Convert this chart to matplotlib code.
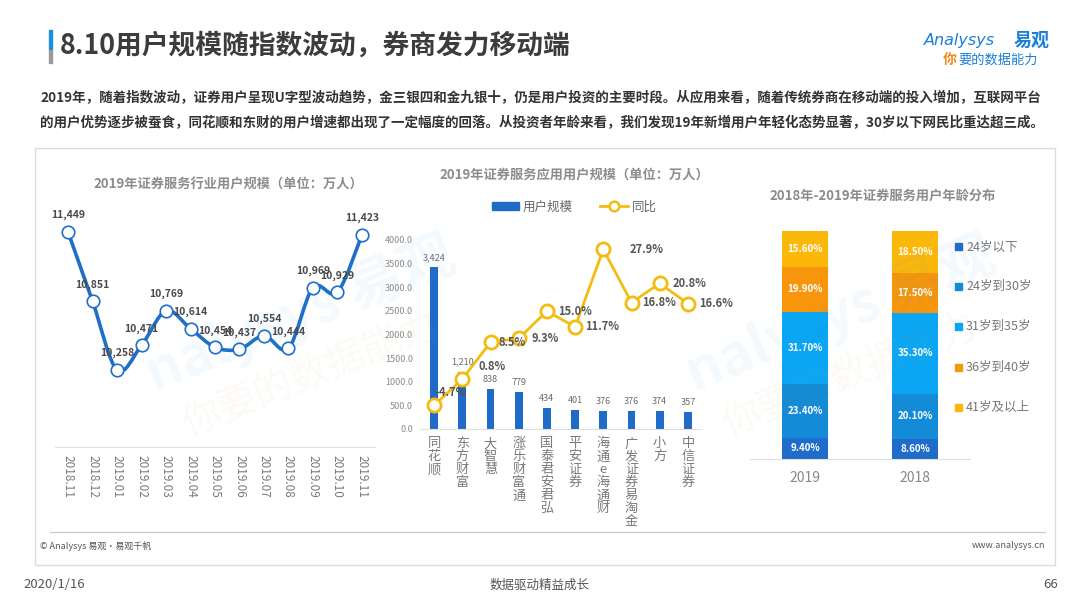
import numpy as np
import matplotlib
matplotlib.use("Agg")
import matplotlib.pyplot as plt
from matplotlib.path import Path
from matplotlib.patches import PathPatch, Rectangle, Patch
from matplotlib.lines import Line2D

plt.rcParams['font.family'] = ['Noto Sans CJK SC', 'DejaVu Sans']

# data
months = ['2018.11', '2018.12', '2019.01', '2019.02', '2019.03', '2019.04', '2019.05',
          '2019.06', '2019.07', '2019.08', '2019.09', '2019.10', '2019.11']
industry_users = [11449, 10851, 10258, 10471, 10769, 10614, 10454, 10437, 10554, 10444, 10969, 10929, 11423]

apps = ['同花顺', '东方财富', '大智慧', '涨乐财富通', '国泰君安君弘', '平安证券',
        '海通e海通财', '广发证券易淘金', '小方', '中信证券']
app_users = [3424, 1210, 838, 779, 434, 401, 376, 376, 374, 357]
app_yoy = [-4.7, 0.8, 8.5, 9.3, 15.0, 11.7, 27.9, 16.8, 20.8, 16.6]

years = ['2019', '2018']
age_groups = ['24岁以下', '24岁到30岁', '31岁到35岁', '36岁到40岁', '41岁及以上']
age_2019 = [9.4, 23.4, 31.7, 19.9, 15.6]
age_2018 = [8.6, 20.1, 35.3, 17.5, 18.5]

W, H = 1080, 608
fig = plt.figure(figsize=(W / 100, H / 100), dpi=100)
fig.patch.set_facecolor('white')


def fx(x):
    return x / W


def fy(y):
    return 1 - y / H


def px_axes(x0, y0, x1, y1):
    return fig.add_axes([fx(x0), fy(y1), (x1 - x0) / W, (y1 - y0) / H])


# header
fig.patches.append(Rectangle((fx(49), fy(50)), 3 / W, 20 / H, transform=fig.transFigure,
                             color='#1a8fe0', zorder=5))
fig.patches.append(Rectangle((fx(49), fy(63)), 3 / W, 13 / H, transform=fig.transFigure,
                             color='#9a9a9a', zorder=5))
fig.text(fx(60), fy(46), '8.10用户规模随指数波动，券商发力移动端', fontsize=19.3,
         fontweight='bold', color='#3c3c3c', va='center', ha='left')
fig.text(fx(924), fy(40), 'Analysys', fontsize=11.5, style='italic', color='#1a7fd8',
         family=['DejaVu Sans'], va='center', ha='left')
fig.text(fx(1050), fy(40), '易观', fontsize=13, fontweight='bold', color='#1a7fd8',
         va='center', ha='right')
fig.text(fx(943), fy(60), '你', fontsize=10, color='#f08a1c', va='center', ha='left',
         fontweight='bold')
fig.text(fx(958), fy(60), '要的数据能力', fontsize=9.5, color='#1a7fd8', va='center', ha='left',
         style='italic')

para1 = '2019年，随着指数波动，证券用户呈现U字型波动趋势，金三银四和金九银十，仍是用户投资的主要时段。从应用来看，随着传统券商在移动端的投入增加，互联网平台'
para2 = '的用户优势逐步被蚕食，同花顺和东财的用户增速都出现了一定幅度的回落。从投资者年龄来看，我们发现19年新增用户年轻化态势显著，30岁以下网民比重达超三成。'
fig.text(fx(40), fy(98), para1, fontsize=9.75, fontweight='bold', color='#333333', va='center')
fig.text(fx(40), fy(123), para2, fontsize=9.75, fontweight='bold', color='#333333', va='center')

# panel box and footer
fig.patches.append(Rectangle((fx(35), fy(565)), 1020 / W, 417 / H, transform=fig.transFigure,
                             fill=False, edgecolor='#dcdcdc', lw=1))
fig.lines.append(Line2D([fx(50), fx(1045)], [fy(532), fy(532)], transform=fig.transFigure,
                        color='#c8c8c8', lw=0.8))
fig.text(fx(40), fy(546), '© Analysys 易观·易观千帆', fontsize=6.5, color='#555555', va='center')
fig.text(fx(1045), fy(546), 'www.analysys.cn', fontsize=6.5, color='#555555', va='center', ha='right')
fig.text(fx(23), fy(585), '2020/1/16', fontsize=9.5, color='#555555', va='center')
fig.text(fx(540), fy(585), '数据驱动精益成长', fontsize=9, color='#555555', va='center', ha='center')
fig.text(fx(1058), fy(585), '66', fontsize=9.5, color='#555555', va='center', ha='right')

# faint watermarks (drawn under the charts)
for (wx, wy, rot) in [(300, 315, 22), (840, 315, 22)]:
    fig.text(fx(wx), fy(wy), 'nalysys 易观', fontsize=40, fontweight='bold', color='#1a8fe0',
             alpha=0.05, rotation=rot, ha='center', va='center', zorder=0)
    fig.text(fx(wx + 10), fy(wy + 60), '你要的数据能力', fontsize=28, color='#e0a040',
             alpha=0.05, rotation=rot, ha='center', va='center', zorder=0)

# ---- left chart: smooth line
fig.text(fx(228), fy(185), '2019年证券服务行业用户规模（单位：万人）', fontsize=9.5,
         fontweight='bold', color='#8c8c8c', ha='center', va='center')
ax1 = px_axes(55, 200, 375, 447)
ax1.set_facecolor('none')
ax1.set_xlim(-0.534, len(months) - 1 + 0.534)
ax1.set_ylim(9593, 11725)
xs = np.arange(len(months), dtype=float)
ys = np.array(industry_users, dtype=float)
verts = [(xs[0], ys[0])]
codes = [Path.MOVETO]
n = len(xs)
for i in range(n - 1):
    p0 = np.array([xs[max(i - 1, 0)], ys[max(i - 1, 0)]])
    p1 = np.array([xs[i], ys[i]])
    p2 = np.array([xs[i + 1], ys[i + 1]])
    p3 = np.array([xs[min(i + 2, n - 1)], ys[min(i + 2, n - 1)]])
    c1 = p1 + (p2 - p0) / 6
    c2 = p2 - (p3 - p1) / 6
    verts += [tuple(c1), tuple(c2), tuple(p2)]
    codes += [Path.CURVE4] * 3
ax1.add_patch(PathPatch(Path(verts, codes), fill=False, edgecolor='#1f6fc8', lw=2.6, zorder=2))
ax1.plot(xs, ys, 'o', ms=9, mfc='white', mec='#1f6fc8', mew=1.2, zorder=3)
for x, v in zip(xs, industry_users):
    ax1.annotate(f'{v:,}', (x, v), xytext=(0, 12), textcoords='offset points', ha='center',
                 va='center', fontsize=7.5, fontweight='bold', color='#4a4a4a', zorder=4)
ax1.set_xticks(xs)
ax1.set_xticklabels(months, rotation=270, fontsize=8.5, color='#7a7a7a')
ax1.tick_params(axis='x', length=0, pad=6)
ax1.set_yticks([])
for s in ['top', 'left', 'right']:
    ax1.spines[s].set_visible(False)
ax1.spines['bottom'].set_color('#e0e0e0')

# ---- middle chart: bars + yoy line
fig.text(fx(574), fy(175), '2019年证券服务应用用户规模（单位：万人）', fontsize=9.5,
         fontweight='bold', color='#8c8c8c', ha='center', va='center')
ax2 = px_axes(420, 240, 702, 429)
ax2.set_facecolor('none')
xb = np.arange(len(apps))
ax2.bar(xb, app_users, width=0.27, color='#1e6cc8', zorder=2)
for x, v in zip(xb, app_users):
    ax2.annotate(f'{v:,}', (x, v), xytext=(0, 7), textcoords='offset points', ha='center',
                 va='center', fontsize=6.5, color='#6a6a6a')
ax2.set_xlim(-0.5, len(apps) - 0.5)
ax2.set_ylim(0, 4000)
ax2.set_yticks(np.arange(0, 4001, 500))
ax2.set_yticklabels([f'{t:.1f}' for t in np.arange(0, 4001, 500)], fontsize=6.5, color='#8a8a8a')
ax2.set_xticks(xb)
ax2.set_xticklabels(['\n'.join(a) for a in apps], fontsize=9.5, color='#7a7a7a',
                    va='top', linespacing=1.0)
ax2.tick_params(length=0)
ax2.tick_params(axis='y', pad=5)
ax2.tick_params(axis='x', pad=6)
for s in ['top', 'left', 'right']:
    ax2.spines[s].set_visible(False)
ax2.spines['bottom'].set_color('#e0e0e0')

ax2b = ax2.twinx()
ax2b.set_ylim(-9.64, 29.88)
ax2b.plot(xb, app_yoy, '-o', color='#f2bd10', lw=2, ms=9.5, mfc='white', mec='#f2bd10',
          mew=2, zorder=3, clip_on=False)
ax2b.axis('off')
yoy_offsets = [(1, 9), (12, 9), (6, 0), (9, 0), (8, 0), (7, 0), (19, 0), (8, 0), (9, 0), (8, 0)]
for x, v, off in zip(xb, app_yoy, yoy_offsets):
    ax2b.annotate(f'{v:.1f}%', (x, v), xytext=off, textcoords='offset points', ha='left',
                  va='center', fontsize=8, fontweight='bold', color='#555555', zorder=4)

fig.legend(handles=[Patch(color='#1e6cc8', label='用户规模'),
                    Line2D([], [], color='#f2bd10', lw=2, marker='o', ms=7, mfc='white',
                           mec='#f2bd10', mew=1.8, label='同比')],
           loc='center', bbox_to_anchor=(fx(574), fy(207)), ncol=2, frameon=False,
           fontsize=9, labelcolor='#666666', handlelength=2.2, handleheight=0.6,
           columnspacing=2.2, handletextpad=0.3)

# ---- right chart: stacked bars
fig.text(fx(883), fy(196), '2018年-2019年证券服务用户年龄分布', fontsize=9.5,
         fontweight='bold', color='#8c8c8c', ha='center', va='center')
ax3 = px_axes(750, 231, 970, 459)
ax3.set_facecolor('none')
age_colors = ['#1f6cca', '#138bd6', '#0ba6f3', '#f7960c', '#fbb70a']
bottoms = np.zeros(len(years))
values = np.array([age_2019, age_2018]).T
for k in range(len(age_groups)):
    ax3.bar(np.arange(len(years)), values[k], bottom=bottoms, width=0.41,
            color=age_colors[k], zorder=2)
    for j in range(len(years)):
        ax3.text(j, bottoms[j] + values[k][j] / 2, f'{values[k][j]:.2f}%', ha='center',
                 va='center', fontsize=7, fontweight='bold', color='white', zorder=3)
    bottoms += values[k]
ax3.set_xlim(-0.5, 1.5)
ax3.set_ylim(0, 100)
ax3.set_xticks(np.arange(len(years)))
ax3.set_xticklabels(years, fontsize=10, color='#888888')
ax3.tick_params(length=0, pad=9)
ax3.set_yticks([])
for s in ['top', 'left', 'right']:
    ax3.spines[s].set_visible(False)
ax3.spines['bottom'].set_color('#e0e0e0')

leg_y = [247, 286, 326, 367, 407]
for k, (lab, yy) in enumerate(zip(age_groups, leg_y)):
    fig.patches.append(Rectangle((fx(955), fy(yy + 3.5)), 7 / W, 7 / H,
                                 transform=fig.transFigure, color=age_colors[k]))
    fig.text(fx(966), fy(yy), lab, fontsize=9, color='#777777', va='center', ha='left')

fig.savefig('out.png', dpi=100)
